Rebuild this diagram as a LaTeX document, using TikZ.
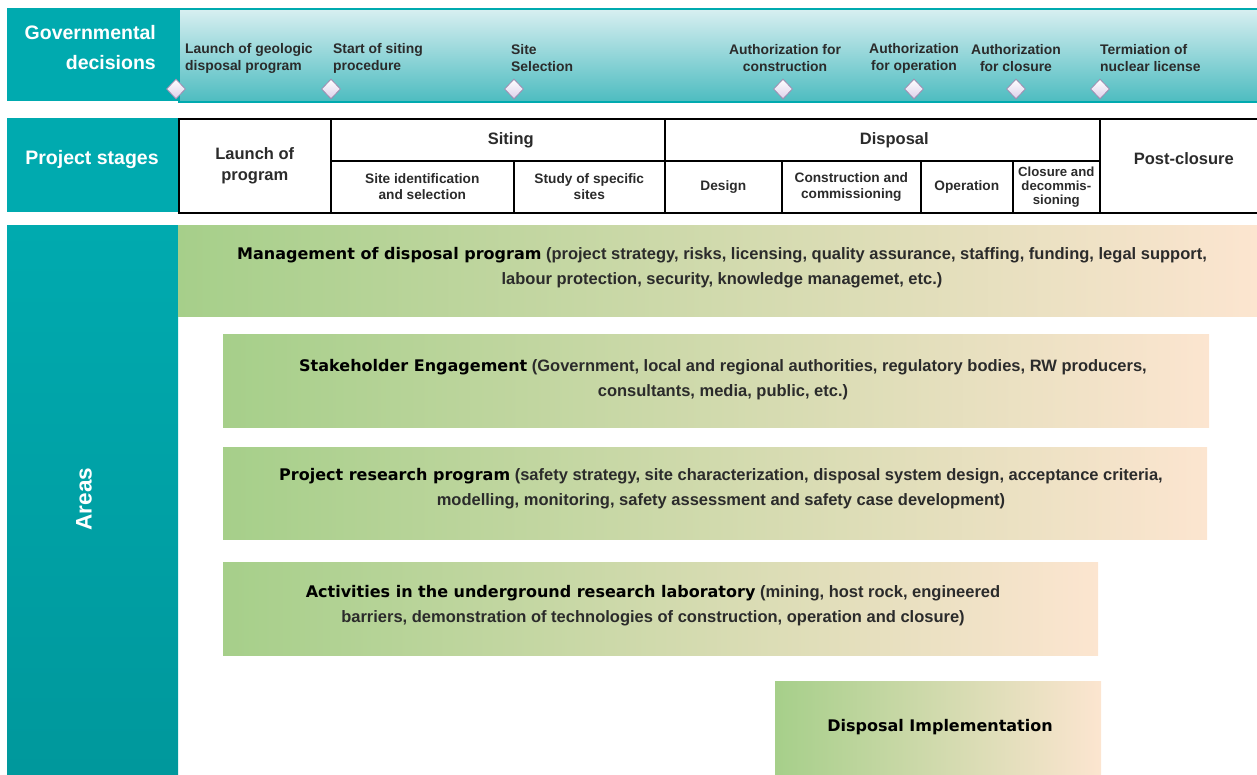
\documentclass[tikz,border=0pt]{standalone}
\usepackage{fontspec}
\setmainfont{Liberation Sans}
\newfontfamily\widefont{DejaVu Sans}
\usetikzlibrary{shapes.geometric}

\definecolor{govteal}{HTML}{00AAAF}
\definecolor{darkteal}{HTML}{00989C}
\definecolor{bandtop}{HTML}{D8EFF1}
\definecolor{bandbottom}{HTML}{4DBCC0}
\definecolor{barleft}{HTML}{A6CF8A}
\definecolor{barmid}{HTML}{E4E4BE}
\definecolor{barright}{HTML}{FCE5D0}
\definecolor{textgray}{HTML}{2B2B2B}
\definecolor{diamondfill}{HTML}{DCD0EA}
\definecolor{diamondedge}{HTML}{9C8CB0}

\tikzset{
  tealbox/.style={fill=govteal, anchor=north west, inner sep=0pt},
  heading/.style={text=white, font=\bfseries\fontsize{19.5}{30}\selectfont, inner sep=0pt},
  stagecell/.style={draw=black, line width=1.6pt, anchor=north west, align=center,
    inner sep=0pt, text=textgray, font=\bfseries\fontsize{16.5}{21}\selectfont},
  subcell/.style={stagecell, font=\bfseries\fontsize{13.7}{16}\selectfont},
  areabar/.style={anchor=north west, left color=barleft, middle color=barmid,
    right color=barright, inner sep=0pt},
  areatext/.style={align=center, text=textgray, font=\bfseries\fontsize{16.5}{25}\selectfont},
  milestone/.style={diamond, draw=diamondedge, top color=white, bottom color=diamondfill,
    line width=0.8pt, minimum width=19pt, minimum height=20pt, inner sep=0pt},
  decision/.style={text=textgray, font=\bfseries\fontsize{13.9}{17}\selectfont, inner sep=0pt}
}
\newcommand{\areahead}[1]{{\widefont\bfseries\fontsize{16}{25}\selectfont\color{black}#1}}

\begin{document}
\begin{tikzpicture}[x=1pt, y=-1pt]
\useasboundingbox (0,0) rectangle (1257,774);

\node[tealbox, minimum width=171pt, minimum height=93pt] (govbox) at (7,8) {};
\node[anchor=north west, top color=bandtop, bottom color=bandbottom, draw=govteal,
  line width=1.5pt, minimum width=1079pt, minimum height=93pt, inner sep=0pt] (govband) at (178,8) {};
\node[heading, align=right, anchor=east] (govtext) at (156,48) {Governmental\\decisions};

\node[decision, align=left, anchor=west] (gd1) at (185,58) {Launch of geologic\\disposal program};
\node[decision, align=left, anchor=west] (gd2) at (333,58) {Start of siting\\procedure};
\node[decision, align=left, anchor=west] (gd3) at (511,58) {Site\\Selection};
\node[decision, align=center] (gd4) at (785,58) {Authorization for\\construction};
\node[decision, align=center] (gd5) at (914,58) {Authorization\\for operation};
\node[decision, align=center] (gd6) at (1016,58) {Authorization\\for closure};
\node[decision, align=left, anchor=west] (gd7) at (1100,58) {Termiation of\\nuclear license};
\foreach \x [count=\i] in {176,331,514,783,914,1016,1100}
  \node[milestone] (m\i) at (\x,89) {};

\node[tealbox, minimum width=171pt, minimum height=94pt] (stagebox) at (7,118) {};
\node[heading] (stagetext) at (92,159) {Project stages};
\node[stagecell, minimum width=152pt, minimum height=94pt] (launch) at (178,118) {Launch of\\program};
\node[stagecell, minimum width=334pt, minimum height=42pt,
  label={[xshift=13pt, stagecell, draw=none, anchor=center]center:Siting}] (siting) at (330,118) {};
\node[subcell, minimum width=183pt, minimum height=52pt] (siteid) at (330,160) {Site identification\\and selection};
\node[subcell, minimum width=151pt, minimum height=52pt] (study) at (513,160) {Study of specific\\sites};
\node[stagecell, minimum width=435pt, minimum height=42pt,
  label={[xshift=12pt, stagecell, draw=none, anchor=center]center:Disposal}] (disposal) at (664,118) {};
\node[subcell, minimum width=117pt, minimum height=52pt] (design) at (664,160) {Design};
\node[subcell, minimum width=139pt, minimum height=52pt] (construct) at (781,160) {Construction and\\commissioning};
\node[subcell, minimum width=92pt, minimum height=52pt] (operate) at (920,160) {Operation};
\node[subcell, minimum width=87pt, minimum height=52pt,
  font=\bfseries\fontsize{13.2}{14}\selectfont] (closure) at (1012,160) {Closure and\\decommis-\\sioning};
\node[stagecell, minimum width=158pt, minimum height=94pt,
  label={[xshift=5pt, yshift=7pt, stagecell, draw=none, anchor=center]center:Post-closure}] (post) at (1099,118) {};

\node[anchor=north west, top color=govteal, bottom color=darkteal, minimum width=171pt,
  minimum height=549pt, inner sep=0pt] (areabox) at (7,225) {};
\node[heading, rotate=90, font=\bfseries\fontsize{22.5}{24}\selectfont] (areatext) at (84,499) {Areas};

\node[areabar, minimum width=1079pt, minimum height=91pt] (manage) at (178,225) {};
\node[areatext] (managetext) at (722,268) {\areahead{Management of disposal program} (project strategy, risks, licensing, quality assurance, staffing, funding, legal support,\\labour protection, security, knowledge managemet, etc.)};
\node[areabar, minimum width=986pt, minimum height=93pt] (stake) at (223,334) {};
\node[areatext] (staketext) at (723,380) {\areahead{Stakeholder Engagement} (Government, local and regional authorities, regulatory bodies, RW producers,\\consultants, media, public, etc.)};
\node[areabar, minimum width=984pt, minimum height=92pt] (research) at (223,447) {};
\node[areatext] (researchtext) at (721,489) {\areahead{Project research program} (safety strategy, site characterization, disposal system design, acceptance criteria,\\modelling, monitoring, safety assessment and safety case development)};
\node[areabar, minimum width=875pt, minimum height=93pt] (lab) at (223,562) {};
\node[areatext] (labtext) at (653,606) {\areahead{Activities in the underground research laboratory} (mining, host rock, engineered\\barriers, demonstration of technologies of construction, operation and closure)};
\node[areabar, minimum width=326pt, minimum height=93pt] (implement) at (775,681) {};
\node[areatext] (implementtext) at (940,727) {\areahead{Disposal Implementation}};
\end{tikzpicture}
\end{document}
